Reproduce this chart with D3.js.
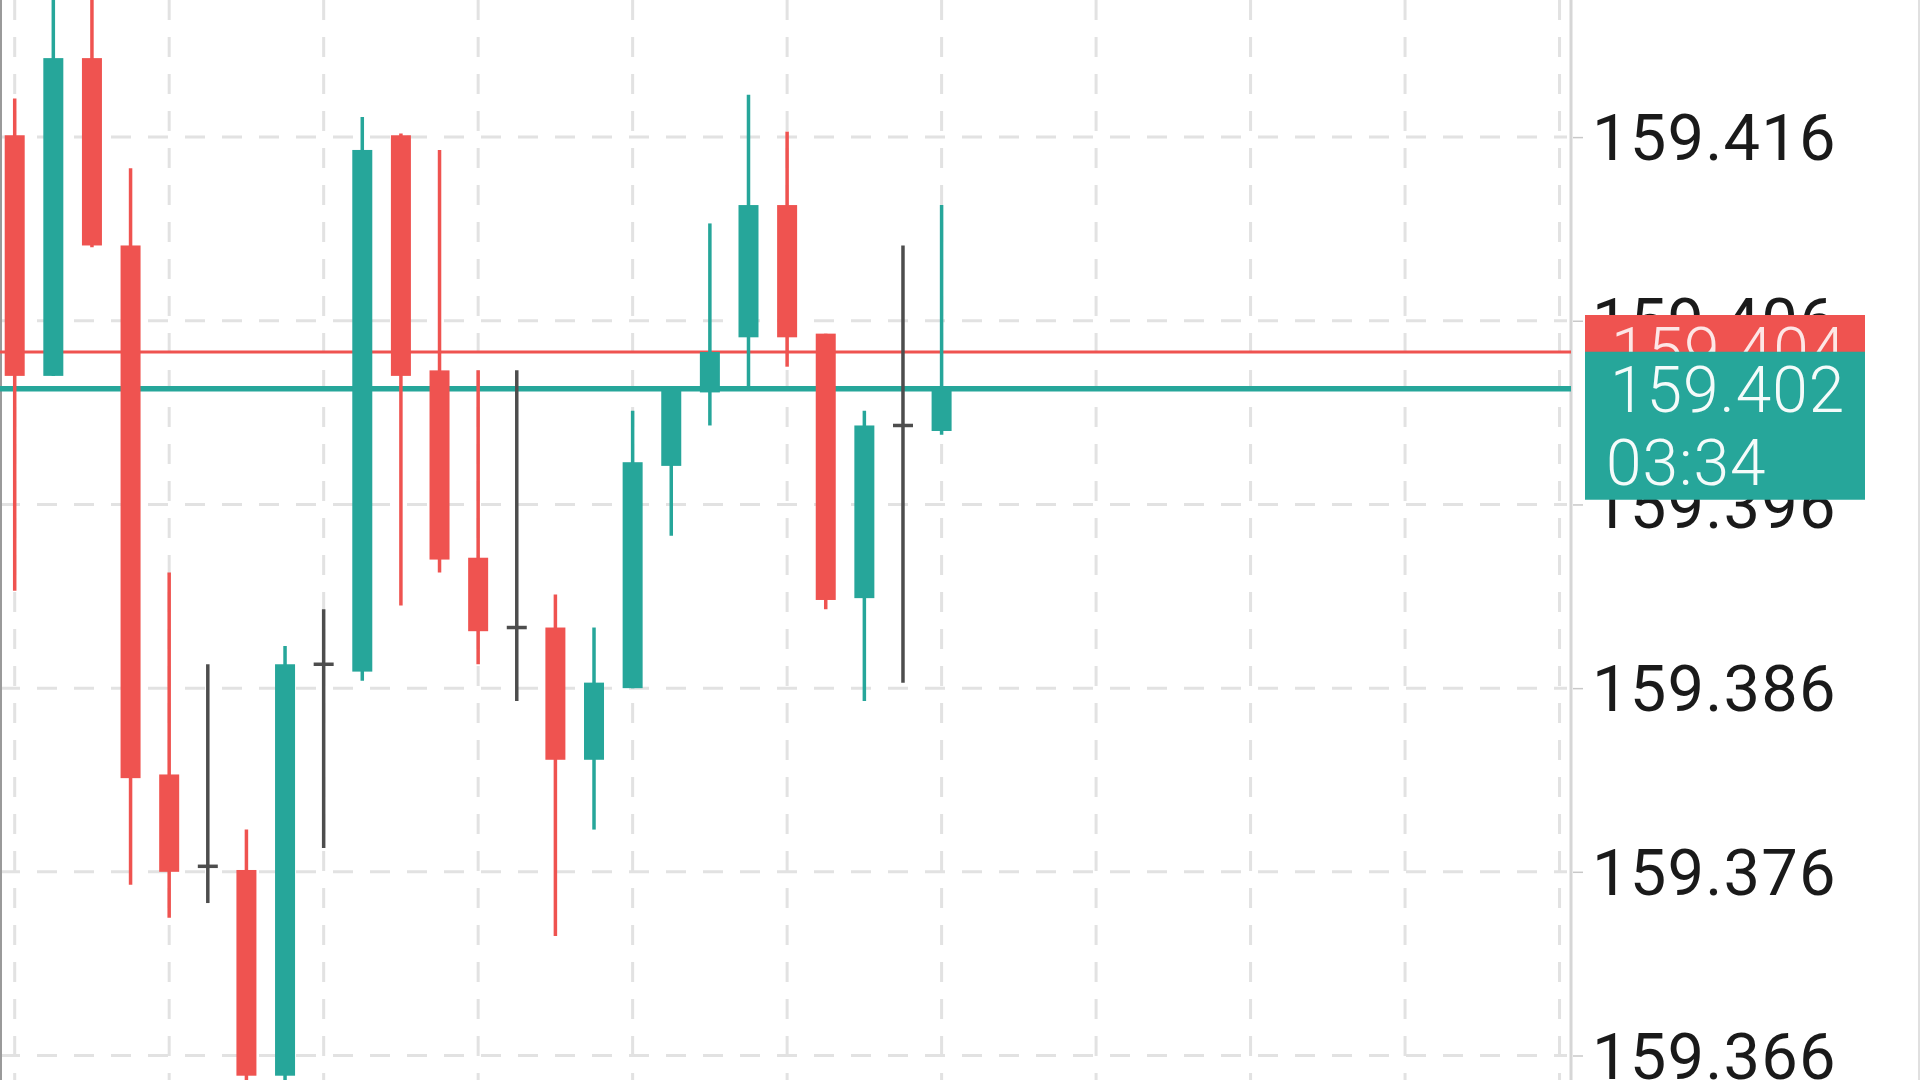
<!DOCTYPE html>
<html><head><meta charset="utf-8">
<script src="https://cdn.jsdelivr.net/npm/d3@7/dist/d3.min.js"></script>
<style>html,body{margin:0;padding:0;background:#fff;overflow:hidden}svg{display:block}</style>
</head><body>
<svg id="chart" width="1920" height="1080"></svg>
<script>
// ---- data ----
const opens  = [159.4161,159.4030,159.4203,159.4101,159.3813,159.3763,159.3761,159.3649,159.3873,159.3869,159.4161,159.4033,159.3931,159.3893,159.3893,159.3821,159.3860,159.3981,159.4021,159.4051,159.4123,159.4053,159.3909,159.4003,159.4000];
const highs  = [159.4181,159.4250,159.4250,159.4143,159.3923,159.3873,159.3783,159.3883,159.3903,159.4171,159.4162,159.4153,159.4033,159.4033,159.3911,159.3893,159.4011,159.4023,159.4113,159.4183,159.4163,159.4053,159.4011,159.4101,159.4123];
const lows   = [159.3913,159.4030,159.4100,159.3753,159.3735,159.3743,159.3640,159.3640,159.3773,159.3864,159.3905,159.3923,159.3873,159.3853,159.3725,159.3783,159.3860,159.3943,159.4003,159.4023,159.4035,159.3903,159.3853,159.3863,159.3998];
const closes = [159.4030,159.4203,159.4101,159.3811,159.3760,159.3763,159.3649,159.3873,159.3873,159.4153,159.4030,159.3930,159.3891,159.3893,159.3821,159.3863,159.3983,159.4023,159.4043,159.4123,159.4051,159.3908,159.4003,159.4003,159.4023];
const priceTicks = [159.366,159.376,159.386,159.396,159.406,159.416];
const gridIndices = [0,4,8,12,16,20,24,28,32,36,40];
const askPrice = 159.4043;
const lastPrice = 159.4023;
const countdown = "03:34";

// ---- layout ----
const W = 1920, H = 1080, plotRight = 1571;
const UP = "#26a69a", DOWN = "#ef5350", DOJI = "#4d4d4d";
const svg = d3.select("#chart");
const y = d3.scaleLinear().domain([159.366, 159.416]).range([1055.5, 137.1]);
const x = d3.scaleLinear().domain([0, 24]).range([14.7, 941.6]);
const candles = opens.map((o,i)=>({i, o, h:highs[i], l:lows[i], c:closes[i]}));
const fmt = d3.format(".3f");

// grid
const grid = svg.append("g").attr("stroke","#e2e2e2").attr("stroke-width",3).attr("stroke-dasharray","20,17");
grid.selectAll("line.h").data(priceTicks).join("line").attr("class","h")
  .attr("x1",0).attr("x2",plotRight-4).attr("y1",d=>y(d)).attr("y2",d=>y(d));
grid.selectAll("line.v").data(gridIndices).join("line").attr("class","v")
  .attr("x1",d=>x(d)).attr("x2",d=>x(d)).attr("y1",0).attr("y2",H);

// borders
svg.append("line").attr("x1",1).attr("x2",1).attr("y1",0).attr("y2",H).attr("stroke","#9a9a9a").attr("stroke-width",2);
svg.append("line").attr("x1",plotRight).attr("x2",plotRight).attr("y1",0).attr("y2",H).attr("stroke","#d6d6d6").attr("stroke-width",3);
svg.append("line").attr("x1",W-1).attr("x2",W-1).attr("y1",0).attr("y2",H).attr("stroke","#e0e0e0").attr("stroke-width",2);

// price lines
svg.append("line").attr("x1",0).attr("x2",plotRight).attr("y1",y(askPrice)).attr("y2",y(askPrice)).attr("stroke",DOWN).attr("stroke-width",3);
svg.append("line").attr("x1",0).attr("x2",plotRight).attr("y1",y(lastPrice)).attr("y2",y(lastPrice)).attr("stroke",UP).attr("stroke-width",5.5);

// candles
const col = d => d.c > d.o ? UP : (d.c < d.o ? DOWN : DOJI);
const g = svg.append("g");
const cg = g.selectAll("g.c").data(candles).join("g").attr("class","c");
cg.append("line").attr("x1",d=>x(d.i)).attr("x2",d=>x(d.i)).attr("y1",d=>y(d.h)).attr("y2",d=>y(d.l))
  .attr("stroke",col).attr("stroke-width",3.5);
cg.filter(d=>d.c!==d.o).append("rect")
  .attr("x",d=>x(d.i)-10).attr("width",20)
  .attr("y",d=>y(Math.max(d.o,d.c))).attr("height",d=>Math.max(2, y(Math.min(d.o,d.c))-y(Math.max(d.o,d.c))))
  .attr("fill",col);
cg.filter(d=>d.c===d.o).append("line")
  .attr("x1",d=>x(d.i)-10).attr("x2",d=>x(d.i)+10).attr("y1",d=>y(d.o)).attr("y2",d=>y(d.o))
  .attr("stroke",DOJI).attr("stroke-width",3.5);

// right axis
const axis = d3.axisRight(y).tickValues(priceTicks).tickFormat(fmt).tickSize(10).tickPadding(9);
const ag = svg.append("g").attr("transform",`translate(${plotRight+2},0)`).call(axis);
ag.select(".domain").remove();
ag.selectAll(".tick line").attr("stroke","#c8c8c8").attr("stroke-width",1.5);
ag.selectAll(".tick text").attr("fill","#1a1a1a").attr("font-family","Roboto, sans-serif").attr("font-size",65)
  .attr("letter-spacing","1.2px").attr("dy","0.35em");

// ask label (red)
const lab = svg.append("g");
const labText = (sel, xx, yy, t) => sel.append("text").attr("x",xx).attr("y",yy).text(t)
  .attr("fill","#f4fbfa").attr("font-family","Roboto, sans-serif").attr("font-weight",300)
  .attr("font-size",64).attr("letter-spacing","1px");
lab.append("rect").attr("x",1585).attr("width",280).attr("y",y(askPrice)-37).attr("height",80).attr("fill",DOWN);
labText(lab, 1611, y(askPrice)+21, fmt(askPrice)).attr("fill","#fde6e6");
// last price label (teal)
lab.append("rect").attr("x",1585).attr("width",280).attr("y",y(lastPrice)-37).attr("height",148).attr("fill",UP);
labText(lab, 1610, y(lastPrice)+23, fmt(lastPrice));
labText(lab, 1606, y(lastPrice)+96, countdown);
</script>
</body></html>
